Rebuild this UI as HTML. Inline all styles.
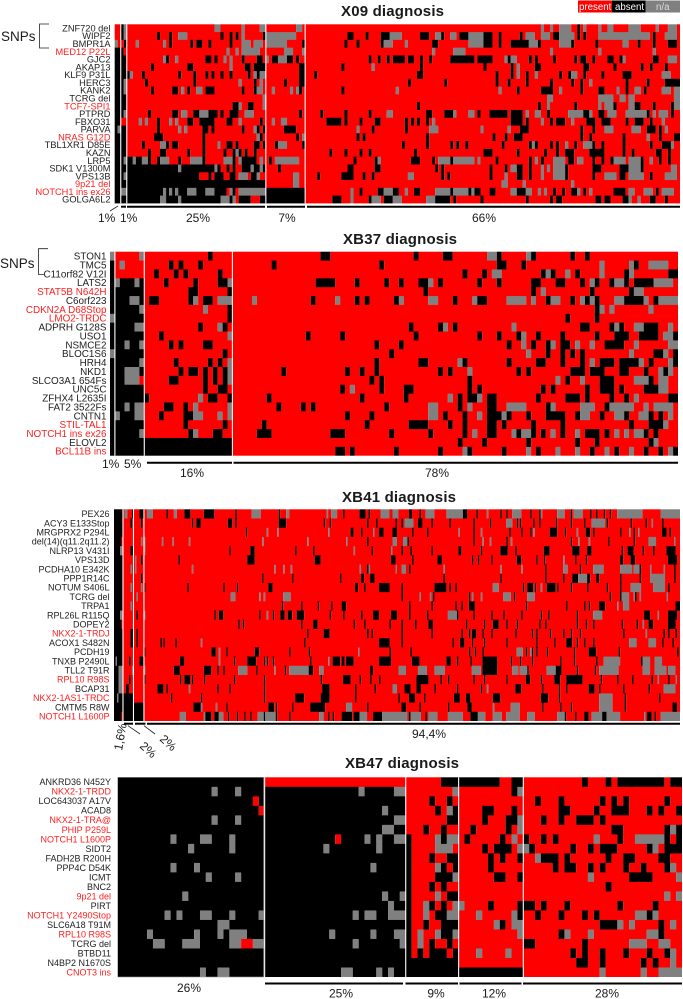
<!DOCTYPE html>
<html lang="en">
<head>
<meta charset="utf-8">
<title>Diagnosis mutation heatmaps</title>
<style>
html,body{margin:0;padding:0;background:#fff;}
svg{display:block;font-family:"Liberation Sans",sans-serif;}
.title{font-size:15px;font-weight:bold;fill:#1a1a1a;}
.pct{font-size:12px;fill:#1a1a1a;}
.bar{stroke:#000;stroke-width:2;}
.thin{stroke:#222;stroke-width:.8;fill:none;}
</style>
</head>
<body>
<svg id="chart" width="683" height="999" viewBox="0 0 683 999" xmlns="http://www.w3.org/2000/svg">
  <g>
    <rect x="578" y="0.5" width="34" height="12" fill="#ff0000"/>
    <rect x="612" y="0.5" width="33.5" height="12" fill="#000"/>
    <rect x="645.5" y="0.5" width="34.5" height="12" fill="#808080"/>
    <text x="579" y="10" font-size="9.7" fill="#fff">present</text>
    <text x="615" y="10" font-size="9.7" fill="#fff">absent</text>
    <text x="656" y="10" font-size="9.7" fill="#ddd">n/a</text>
  </g>
  <text class="title" x="341" y="16" textLength="103">X09 diagnosis</text>
  <text class="title" x="343" y="244" textLength="114">XB37 diagnosis</text>
  <text class="title" x="342" y="502" textLength="114">XB41 diagnosis</text>
  <text class="title" x="345" y="768" textLength="114">XB47 diagnosis</text>

  <text x="1" y="41" font-size="13.5" fill="#1a1a1a">SNPs</text>
  <path class="thin" d="M49 24H39.5V48H49"/>
  <text x="0" y="268" font-size="13.5" fill="#1a1a1a">SNPs</text>
  <path class="thin" d="M48 248.7H38.5V274.5H44"/>

  <g id="panels"></g>

  <rect x="117.7" y="777.3" width="146" height="199.7" fill="none" stroke="#999" stroke-width="0.6"/>

  <g>
    <line class="thin" x1="110" y1="211" x2="118" y2="206"/>
    <line class="bar" x1="121" y1="206.7" x2="126" y2="206.7"/>
    <line class="bar" x1="127" y1="206.7" x2="265" y2="206.7"/>
    <line class="bar" x1="267" y1="206.7" x2="305" y2="206.7"/>
    <line class="bar" x1="307" y1="206.7" x2="680" y2="206.7"/>
    <text class="pct" x="98" y="222">1%</text>
    <text class="pct" x="120" y="222">1%</text>
    <text class="pct" x="198" y="222" text-anchor="middle">25%</text>
    <text class="pct" x="287" y="222" text-anchor="middle">7%</text>
    <text class="pct" x="484" y="222" text-anchor="middle">66%</text>
  </g>
  <g>
    <line class="bar" x1="147" y1="462.7" x2="232" y2="462.7"/>
    <line class="bar" x1="233.5" y1="462.7" x2="678" y2="462.7"/>
    <text class="pct" x="102" y="468">1%</text>
    <text class="pct" x="124" y="468">5%</text>
    <text class="pct" x="192" y="477" text-anchor="middle">16%</text>
    <text class="pct" x="437" y="477" text-anchor="middle">78%</text>
  </g>
  <g>
    <line class="bar" x1="124" y1="723.7" x2="133" y2="723.7"/>
    <line class="bar" x1="135" y1="723.7" x2="145.5" y2="723.7"/>
    <line class="bar" x1="147" y1="723.7" x2="680" y2="723.7"/>
    <line class="thin" x1="128" y1="725.7" x2="140" y2="734"/>
    <line class="thin" x1="144" y1="725.7" x2="155" y2="734"/>
    <text class="pct" transform="translate(122,751) rotate(-80)">1,6%</text>
    <text class="pct" transform="translate(139,747) rotate(42)">2%</text>
    <text class="pct" transform="translate(159,740) rotate(42)">2%</text>
    <text class="pct" x="429" y="738" text-anchor="middle">94,4%</text>
  </g>
  <g>
    <line class="bar" x1="265" y1="983.5" x2="403" y2="983.5"/>
    <line class="bar" x1="405.5" y1="983.5" x2="458" y2="983.5"/>
    <line class="bar" x1="459.5" y1="983.5" x2="521.5" y2="983.5"/>
    <line class="bar" x1="523" y1="983.5" x2="682" y2="983.5"/>
    <text class="pct" x="189" y="992" text-anchor="middle">26%</text>
    <text class="pct" x="341" y="997.5" text-anchor="middle">25%</text>
    <text class="pct" x="436" y="997.5" text-anchor="middle">9%</text>
    <text class="pct" x="494" y="997.5" text-anchor="middle">12%</text>
    <text class="pct" x="607" y="997.5" text-anchor="middle">28%</text>
  </g>
</svg>
<script>
/* ---------- X09 ---------- */
const x09Genes = ["ZNF720 del","WIPF2","BMPR1A","MED12 P22L","GJC2","AKAP13","KLF9 P31L","HERC3","KANK2","TCRG del","TCF7-SPI1","PTPRD","FBXO31","PARVA","NRAS G12D","TBL1XR1 D85E","KAZN","LRP5","SDK1 V1300M","VPS13B","9p21 del","NOTCH1 ins ex26","GOLGA6L2"];
const x09Highlighted = [3,10,14,20,21];
const x09Groups = [2,2,46,13,124];
const x09Absent = [
"2 153",
"2 14 18 35 38 40 49 77-78 83 88-90 101-103 108 114-116 122-124 127 134 145-146 153 155 178",
"3 18 25 27-28 31 38 62 76 80 88 105-106 122-124 127 131-133 134-136 140 151 159 173 178 183-185",
"0-2",
"0-3 17 30-31 33 42 47-48 52-53 57-58 60 84 87 90 92-95 97-98 101 104 111-118 120-124 130 137 139 145 152 154-155 158 163-164 167 178-179",
"0-3 12 24-25 43-44 46-49 61-62 75 101 122 131 139-140 155-156 165 174 177 182",
"0-3 4 9 21 26 30 32 35 38 44 47 61-62 66 100-101 126 131 136 147 150 155 161 168-170",
"0-2 10 26 46 56 61-62 97 109 126 130 136 144 151 154 169 176 182 183-186",
"0-2 12 19-20 24 30-32 42 46 61 75 133 141-144 154 160-161 169 175",
"0-3",
"0-3 39-40 44-45 100 140 152 165 172-173 178 184",
"0-2 11 19-20 26-28 31-33 35 38-40 61 68 76 84 103-104 109-111 120 124-126 127-129 131-134 143 154-156 160-161 176 184",
"0-1 14 24-25 28-32 37-38 48 70-74 76 81 86-87 96 98 100 103 105 131-134 136 144 146-148 156-158 161-163 169 172-174 177 181",
"0 2-3 14 29-30 32 42 47 49 56-58 59 85 96 134-136 154 158 176-178 180",
"0-3 13-15 29 48 60 80 82 103 125 129 132-134 154 157 168 180 185-186",
"0-3 9 17 19-20 29 37-38 40 46 47 49 53 62 95 103 111 113 116 128 137 139 144 146 152 158 161 168 177 181-183",
"0-3 11 15-16 24 29 36 39 41 43 46 71 76 81 84 99 122-124 133 142 146 149-151 157-160 161 168 171 179-180 183",
"0-2 4-5 7-8 11 14 21 29 39 42-45 46 51 79 86 98-100 105 110-112 126 137 141 150-151 158 161 164 174 180 183",
"0-3 4-20 22-32 34 37 39 42-44 46-49 54 77-78 86-87 106 108 124 129 133-134 137 149 158-160 167-169 174",
"0-2 4-27 31 33-35 38-39 45-46 67 75-78 82 85 98 108 110 124 133-134 137 149 158 167-168 177",
"0-3 4-49",
"0-1 4-15 17 19 21-23 27-29 33-36 39 48 50-62 81 87 88 92-93 99-100 111 117 119-120 124-125 133-135 145 148 151-152 155 165-168 179 184",
"0-3 4-14 17-20 22-34 38 41-44 48-49 50-62 72-74 84 89-91 106-110 112 121 136 144 146 147 159-160 162-163 168-169 177-178 182"
];
const x09NA = [
"3 33-34 42 48-49 60-61 141 144 147-150 155 160 163-164 170-173 179 183-185",
"3 21-23 42 50-59 91-94 106-107 111-112 117-121 136-138 141-143 147-151 160-169 170-176 182-185",
"0 7 16 42-44 46-48 50-56 89-91 96 117-121 137-139 147-150 168-169",
"37 40 42-44 45-47 56 57-58 62 105 112-115 144 160 178",
"16 20 36 38 50 54-56 129 131-132 168 183-185",
"38 85 133",
"5 46 48-49 133 139 151-152 181-183",
"3 41 48 157",
"3 22 27-28 47-48 52 58 60 93 127 147 166 172-173 181-183 185-186",
"49 143-144 160-161 162-164 167-168 170-171 185-186",
"41 49 143 160 162-164 170-171 185-186",
"3 22-23 28-30 43-45 90-91 112 117-118 136 139-140 150-154 157 163-165 169-175 178 180-182",
"8 10 18 20 41 52 55-56 105 141 151 181",
"1 21 23 46 80 104-106 121 130 162-164 171-173 182",
"47 62 176",
"15-16 34 54-56 138 149 155-157 184",
"40",
"3 6 9-10 15-17 25-28 36-38 41 48 53-60 87 107-110 112-118 120 139 145-148 153-154 165-168 170-173 177",
"21 33 45 48 131-132 141 143 145-148 170-173 184-185",
"3 41-43 47 59-60 97-98 129 141 145-148 162-165 170-171 172-174 182-185",
"59-60 128-129 135 151",
"2-3 16 18 20 24-26 30-32 38 41-47 48-49 78 89-91 96 106-110 112-116 118 131-132 136-137 140 142 153 157 170-171 175-177 181-184",
"15-16 21 35-37 39 78 85-87 92-94 103-105 170 173"
];

/* ---------- XB37 ---------- */
const xb37Genes = ["STON1","TMC5","C11orf82 V12I","LATS2","STAT5B N642H","C6orf223","CDKN2A D68Stop","LMO2-TRDC","ADPRH G128S","USO1","NSMCE2","BLOC1S6","HRH4","NKD1","SLCO3A1 654Fs","UNC5C","ZFHX4 L2635I","FAT2 3522Fs","CNTN1","STIL-TAL1","NOTCH1 ins ex26","ELOVL2","BCL11B ins"];
const xb37Highlighted = [4,6,7,19,20,22];
const xb37Groups = [1,6,18,91];
const xb37Absent = [
"20 43-44 62 68-69 79 86 94 97",
"0 12 14 18 33 55 79-80 84 107",
"0 9 13 15 22 72 76 88 90 95 105 114-115",
"0 2-4 6 11 17 22-23 42-45 50 56 59 63-64 67 75 79 86-87 91-92 96 99 102 105 107-109 110",
"0-6 16-17 24 64 86 98 106",
"0-3 6 8-9 16 19-20 41 50 52 58 70 75-76 86 89 94 97 99 105-108 111",
"0-5 24 99",
"1-6 24 93 99",
"0-4 18 23 61 67 70 96-97 102 104 109-111",
"0-6 10 40 47 62 75 79 83 87 92 99 103-105 108 109-111 115",
"0-2 4-5 12 14 19-20 54 59 81 86 89 92-93 101-104",
"1-6 23 57 89 92 94 96 111-112 115",
"0-5 13 20 22 54 63-64 72 81 87-88 92 96 100 101-102 104-106 107 110 115",
"0-2 6 14 16-17 19 21 23 35 48 51 54 67 69 83 85 94-96 98-100 104 105 109 113",
"0-2 12-13 19 21 23 53 55 73 93 100-102 110",
"0-6 19 22-23 47 55 60-61 73 75 88 90 97 100-102 104 109-111",
"0-6 7 20-21 24 32 51 60 71 73-74 77-78 87 93-95 97 102 105 114-115",
"0-2 4 11-12 15 34 39 41 56 71 77-78 89 101",
"0 2-4 10 15-16 48 53 68 72 77-79 81 85 89-92 95 100 105 110 112",
"0-6 15 23 31 52 61-64 69 72 77-78 80 86 92 106 110-111 112",
"0-5 16 21-22 30-32 45-47 57 65 72 77-78 83 86 88 92 97-99 101 109 111",
"0-24 71 76 85 95 99 110",
"0-24 46-47 49 58 67 73 80 87 98 103 109 112 115"
];
const xb37NA = [
"0 6 77-78 85",
"2 100 106 110-113",
"78-79 89 93 100 106",
"1 5 24 65 98 103-104 111-114",
"88 107-108",
"4-5 17 22-24 29 46 59 65-66 74 81-84 86 90-91 96 98 103-104 109 112-115",
"6 19 100 102 110",
"0",
"5-6 22 68 82 103 107-108 114",
"24 84 113-114",
"3 6 84 90 95 98 107 114-115",
"0 85 106 113",
"6 24 71 98 108 114",
"3-5 24 73 112 114",
"3-5 24 91 96 107-109 112-113",
"49 112-113",
"18 69 75 107",
"3 5-6 17 24 65-66 73 81-84 90 96-98 102-106 109 111-114",
"1 5-6 17-18 22 24 65-66 75 80 96-97 103-104 108-109 114",
"113",
"6 17 74 82 84-85 90 95 103 105 107-108",
"111",
"72 85 91 95 101 106 114"
];

/* ---------- XB41 ---------- */
const xb41Genes = ["PEX26","ACY3 E133Stop","MRGPRX2 P294L","del(14)(q11.2q11.2)","NLRP13 V431I","VPS13D","PCDHA10 E342K","PPP1R14C","NOTUM S406L","TCRG del","TRPA1","RPL26L R115Q","DOPEY2","NKX2-1-TRDJ","ACOX1 S482N","PCDH19","TNXB P2490L","TLL2 T91R","RPL10 R98S","BCAP31","NKX2-1AS1-TRDC","CMTM5 R8W","NOTCH1 L1600P"];
const xb41Highlighted = [13,18,20,22];
const xb41Groups = [6,7,7,358];
const xb41Absent = [
"0-5 12 17-19 35 47-50 60-66 81 110 153 164-167 170 197-198 204 233-235 242 258 262 278 284 305 318 322 327 331 352",
"0-5 11 18 52 55-57 76-78 81 110-114 140 144 169 175 188 192 203-205 212 224 240 251 263 269 271 280 284 295 305 314 329 345 355 366",
"0-5 88 158-159 165 177-179 186-188 199 209 240 264 272 278 291-295 301 315-317 320 338 347 366-368 371",
"0-4 169 196 240 262 305 330 347",
"0-3 11-12 77 91-93 121 133 172 192 198 212 230-231 245 258-262 268 287-290 306-310 316-318 339 343-346 353 360 369-374",
"0-5 18 43 89-93 134-137 185-187 199 216-218 239 243 252 269-271 282 287 300 308 315 338-339 345-347 370-375",
"0-5 169 197 258 288 311 351 374",
"0-5 18 99 119 151 165-166 171-173 220 258 288 300 306-310 315-317 322-323 338 351 374",
"0-5 20 49 73 82 103-105 161-162 167 177-183 192 214-221 224 228 273 276-279 281 289-294 296 305 316 329 338 370",
"0-5 15 192 213 237 267 331 338 348",
"0-5 125 112 136 145 152-154 197 212 228 232 237-240 275 302 314 317 324-327 375-377",
"0-3 15 67 70-72 97 106 111-113 116-118 122-126 144 153 165 173-176 185-188 197 209 229 240 252 260 272 285 290 309 322 354-357 370-375",
"0-4 83 86 125 133-135 160 167 184 192 201 210-212 235 247 253-256 262 269 284 288 309 315 320 339 349 357-359 370-374",
"0-5 11-12 15 129 140-143 169 172 192 212 232 237 239-241 246 252 268 279 282 291 300 305 311 340 367 370 375",
"0-5 11-12 15 31 33 41 127 177-183 192 226 231-233 247 239 262 282 294 302-305 309 314 320 366 373",
"0-5 20 65-67 75 94-96 117 130 184 198 237 241 246 275 279 282 289 307 317-321 337 376",
"0-5 10 17-19 44-46 80 89-94 100 102 106 131 146-150 152-153 155-159 177-184 199-203 222-224 229 238 246-255 265 271 279 298 307 322 352-357 363-365",
"0-2 40-43 60-64 69 73 95 114 130-132 171-172 193 246-255 276 290-298 309 321",
"0-2 10 20 44 47-50 52 60 80 100 138 153-157 164 171 177 202-209 218 223 240 247 262 275-277 285 294-297 302-312 325 336 346 359 370",
"0-2 8-9 29-32 35 69 77 100 139-143 161 174 194-197 202-204 214 229 245 268-271 286 297 302 317-320 324 340 357",
"0-5 6-12 38 58 100 121-126 138-143 161 190 197-200 207 227-230 235-237 253-257 285-289 297 332 341 364",
"0-5 6-19 53-57 75 103-106 108 119 131-140 169 192-194 204 223 236-238 286 298 305 327 341 373-375",
"0-4 6-19 60-64 67-69 76 82 87 91 100 108 117 143 146 152-158 160-164 173-179 197 208 230 238-242 301 308 314-316 325-328 356-358 361"
];
const xb41NA = [
"7-8 22-25 40-41 92-97 115-116 142 145-148 178-183 186-189 208-213 222-232 249 266-271 285 296-300 307-312 336-352 365-377",
"194-199 262-265 319-327 359",
"102 109 143 173 230 245 280 309 344 350",
"18 20 32 39 50 99 129 155 186-188 193-195 246 251 265 310 317 357-361 374",
"4-5 20 160 185",
"14 300",
"11 14 52 107 113 118 164 170 188 192-194 220 258 272 300-302 320-326 338-345 347-350 358 367",
"310-315 358-367",
"11 18 253-256 285 345-351 360-367",
"15 78-80 97 100 113-117 204 211 239 245 260-264 276-280 339-343 347 351 369",
"11 336 340-343",
"4-5 20 102 223-228 320-325 363",
"353",
"355",
"58 344-348 357-361",
"70 163 269-272 278",
"1 70 143 327-337 353-357 361-365",
"3-5 12 20 83-88 107 117-129 137-139 190-194 203-208 214-220 239-244 266-269 271-275 289-294 324-336 353-357 361-368 370-374",
"3-5 363 375",
"3-5 50 186-188 249 367-374",
"2 324-332",
"58 68 155-158 253 265-270 324-332",
"44-47 60 70-72 96-99 101-107 137-139 164-168 179-195 198-204 210-215 223-232 243-247 253-258 262-270 276-280 296-300 319-325 329-337 354 365-377"
];

/* ---------- XB47 ---------- */
const xb47Genes = ["ANKRD36 N452Y","NKX2-1-TRDD","LOC643037 A17V","ACAD8","NKX2-1-TRA@","PHIP P259L","NOTCH1 L1600P","SIDT2","FADH2B R200H","PPP4C D54K","ICMT","BNC2","9p21 del","PIRT","NOTCH1 Y2490Stop","SLC6A18 T91M","RPL10 R98S","TCRG del","BTBD11","N4BP2 N1670S","CNOT3 ins"];
const xb47Highlighted = [1,4,5,6,12,14,16,20];
const xb47Groups = [25,24,9,11,27];
const xb47Absent = [
"0-24 55-57 58-64 67-68 79 83 85-92 94-95",
"0-48 67",
"0-22 24-48 53 56 71 75 82 84 86 93",
"0-23 25-48 54 57 62-63 67 75-76 81 84-86 90 92 95",
"0-48 56-57 62 66-67 72 75 78-80 82",
"0-48 52 55 60 66 84-85 93 95",
"0-36 38-49 55 59 65 69 72 74 85 93 95",
"0-49 62 64-66 70 77 80 82-84 90 93-95",
"0-49 53 56-57 63 65 68 72-74 76 83 86-87 92-93",
"0-49 55 57 63 74 76-77 80 82 86 89 93",
"0-49 54-56 64-65 68 87-90",
"0-49 53 55 83",
"0-49 56-57",
"0-49 53 55 63 68 69-70 72 76 85 91",
"0-49 54-55 68 71 75 79 81 90",
"0-49 52 55-57 65 82-84 92",
"0-49 55-56 75 92",
"0-20 23-49 53 56 69-70 79",
"0-49 51 53-55 57 77 79 82 86 90 93",
"0-57 78-79 82 89 91",
"0-68"
];
const xb47NA = [
"",
"16 20 41 47-48 57 68",
"",
"45 56",
"16 20 47-48 68",
"45-46 68 94",
"9 14-15 19 42 44 47-48 54 56-57 67 81 88-92",
"12 19 35 44 54-56 68-69 91",
"71",
"9 13 43 54 94",
"15 20 57 80 95",
"",
"11 45 48 54 93 95",
"46 52 57-58",
"8 10 14-15 19 24 40 42-43 46-48 52 56-57 61 67 88-89 91",
"17-18 64 67-68 85 87 94",
"5 13 17 19-21 36 43 47-48 51 54 57 68 76 80 90-91",
"6-7 11-13 19-20 23-24 40 48 51 87-89 92-93",
"61 66 94",
"94",
"14 17-18 38-39 44 46 82 89 92-95"
];

/* ---------- drawing ---------- */
const SVGNS = "http://www.w3.org/2000/svg";
const COLORS = ["#ff0000", "#000000", "#808080"];
const STATE_NAMES = ["present", "absent", "na"];

function parseTokens(str, fn) {
  str.trim().split(/\s+/).forEach(function (t) {
    if (!t) return;
    const p = t.split("-").map(Number);
    const a = p[0], b = p.length > 1 ? p[1] : p[0];
    for (let i = a; i <= b; i++) fn(i);
  });
}

function drawPanel(key, genes, highlighted, groups, absent, na, box) {
  const root = document.getElementById("panels");
  const g = document.createElementNS(SVGNS, "g");
  
  
  root.appendChild(g);

  const nCols = groups.reduce(function (s, v) { return s + v; }, 0);
  const nRows = genes.length;
  const xScale = function (c) { return box.x0 + (box.x1 - box.x0) * c / nCols; };
  const yScale = function (r) { return box.y0 + (box.y1 - box.y0) * r / nRows; };

  genes.forEach(function (gene, r) {
    const states = new Array(nCols).fill(0);
    parseTokens(absent[r] || "", function (i) { if (i < nCols) states[i] = 1; });
    parseTokens(na[r] || "", function (i) { if (i < nCols) states[i] = 2; });
    const overlap = r === nRows - 1 ? 0 : 0.6;
    let start = 0;
    for (let c = 1; c <= nCols; c++) {
      if (c === nCols || states[c] !== states[start]) {
        const el = document.createElementNS(SVGNS, "rect");
        el.setAttribute("x", xScale(start).toFixed(2));
        el.setAttribute("y", yScale(r).toFixed(2));
        el.setAttribute("width", (xScale(c) - xScale(start)).toFixed(2));
        el.setAttribute("height", (yScale(r + 1) - yScale(r) + overlap).toFixed(2));
        el.setAttribute("fill", COLORS[states[start]]);
        
        
        el.setAttribute("data-state", STATE_NAMES[states[start]]);
        g.appendChild(el);
        start = c;
      }
    }
    const label = document.createElementNS(SVGNS, "text");
    label.setAttribute("x", box.labelX);
    label.setAttribute("y", (yScale(r) + (yScale(r + 1) - yScale(r)) / 2 + box.fontSize * 0.35).toFixed(2));
    label.setAttribute("text-anchor", "end");
    label.setAttribute("font-size", box.fontSize);
    label.setAttribute("fill", highlighted.indexOf(r) >= 0 ? "#ff2020" : "#222");
    
    
    label.textContent = gene;
    g.appendChild(label);
  });

  let acc = 0;
  groups.slice(0, -1).forEach(function (n) {
    acc += n;
    const sep = document.createElementNS(SVGNS, "line");
    sep.setAttribute("x1", xScale(acc).toFixed(2));
    sep.setAttribute("x2", xScale(acc).toFixed(2));
    sep.setAttribute("y1", box.y0);
    sep.setAttribute("y2", box.y1);
    sep.setAttribute("stroke", "#fff");
    sep.setAttribute("stroke-width", "1.1");
    
    
    g.appendChild(sep);
  });
}

drawPanel("x09", x09Genes, x09Highlighted, x09Groups, x09Absent, x09NA,
  {x0: 114.7, x1: 680, y0: 24.3, y1: 203.4, labelX: 110.5, fontSize: 9.25});
drawPanel("xb37", xb37Genes, xb37Highlighted, xb37Groups, xb37Absent, xb37NA,
  {x0: 110, x1: 678, y0: 251.7, y1: 455.7, labelX: 106.5, fontSize: 9.9});
drawPanel("xb41", xb41Genes, xb41Highlighted, xb41Groups, xb41Absent, xb41NA,
  {x0: 114, x1: 680, y0: 509.3, y1: 721, labelX: 109.5, fontSize: 9});
drawPanel("xb47", xb47Genes, xb47Highlighted, xb47Groups, xb47Absent, xb47NA,
  {x0: 117.7, x1: 682, y0: 777.3, y1: 977, labelX: 111, fontSize: 9});
</script>
</body>
</html>
